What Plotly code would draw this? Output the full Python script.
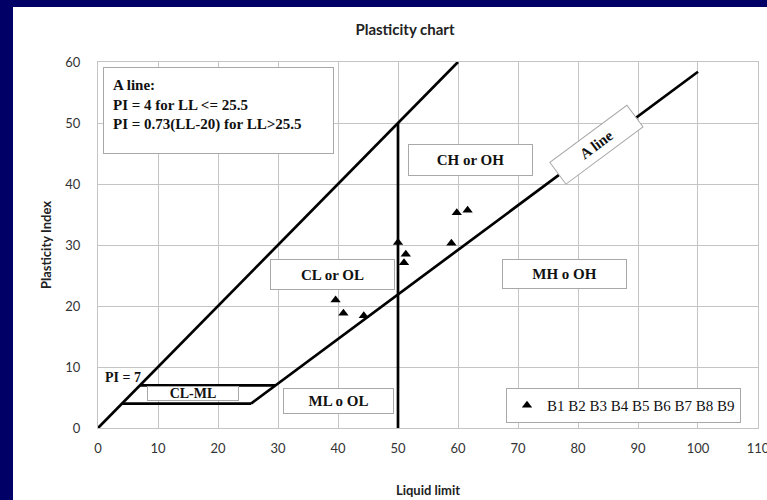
import plotly.graph_objects as go

# ---- data ----
ll_points = [39.6, 40.9, 44.3, 50.0, 51.3, 51.0, 58.9, 59.8, 61.6]
pi_points = [21.0, 18.8, 18.4, 30.4, 28.5, 27.1, 30.3, 35.3, 35.7]
series_name = "B1 B2 B3 B4 B5 B6 B7 B8 B9"

u_line_ll = [0, 60]
u_line_pi = [0, 60]
a_line_ll = [25.5, 100]
a_line_pi = [4, 58.4]
pi4_ll = [4, 25.5]
pi4_pi = [4, 4]
pi7_ll = [7, 29.6]
pi7_pi = [7, 7]
ll50_ll = [50, 50]
ll50_pi = [0, 50]

x_ticks = [0, 10, 20, 30, 40, 50, 60, 70, 80, 90, 100, 110]
y_ticks = [0, 10, 20, 30, 40, 50, 60]

W, H = 767, 500
L, R, T, B = 98, 9, 62, 72
PW, PH = W - L - R, H - T - B

def px_x(p):
    return (p - L) / PW

def px_y(p):
    return (H - B - p) / PH

fig = go.Figure()
line_style = dict(color="black", width=2.7)
for xs, ys in [(u_line_ll, u_line_pi), (a_line_ll, a_line_pi), (pi4_ll, pi4_pi),
               (pi7_ll, pi7_pi), (ll50_ll, ll50_pi)]:
    fig.add_trace(go.Scatter(x=xs, y=ys, mode="lines", line=line_style,
                             showlegend=False, hoverinfo="skip"))

fig.add_trace(go.Scatter(x=ll_points, y=pi_points, mode="markers", name=series_name,
                         marker=dict(symbol="triangle-up", size=9, color="black")))

serif = "Liberation Serif"
border = "#a8a8a8"

def box(x, y, text, w, h, size=15, angle=0):
    fig.add_annotation(x=x, y=y, text="<b>%s</b>" % text, showarrow=False,
                       font=dict(family=serif, size=size, color="#111"),
                       bgcolor="white", bordercolor=border, borderwidth=1,
                       width=w, height=h, borderpad=0, textangle=angle)

box(15.8, 5.6, "CL-ML", 90, 13, size=14)
box(40.0, 4.4, "ML o OL", 109, 24)
box(39.0, 25.2, "CL or OL", 123, 29)
box(77.8, 25.2, "MH o OH", 123, 28)
box(62.0, 43.9, "CH or OH", 123, 30)
box(83.0, 46.4, "A line", 95, 26, angle=-36.6)

fig.add_annotation(x=4.2, y=8.3, text="<b>PI = 7</b>", showarrow=False,
                   font=dict(family=serif, size=14, color="#111"))

fig.add_annotation(xref="paper", yref="paper", x=px_x(103), y=px_y(67),
                   xanchor="left", yanchor="top", align="left", valign="top",
                   text="<b>A line:<br>PI = 4 for LL &lt;= 25.5<br>PI = 0.73(LL-20) for LL&gt;25.5</b>",
                   showarrow=False, font=dict(family=serif, size=15, color="#111"),
                   bgcolor="white", bordercolor=border, borderwidth=1,
                   width=211, height=67, borderpad=9)

# navy frame bands on left and top
navy = "#000066"
fig.add_shape(type="rect", xref="paper", yref="paper", x0=px_x(0), x1=px_x(13),
              y0=px_y(H), y1=px_y(0), fillcolor=navy, line_width=0, layer="above")
fig.add_shape(type="rect", xref="paper", yref="paper", x0=px_x(0), x1=px_x(W),
              y0=px_y(7), y1=px_y(0), fillcolor=navy, line_width=0, layer="above")

tick_font = dict(family="Lato", size=13, color="#333")
grid = "#c4c4c4"
fig.update_layout(
    width=W, height=H,
    margin=dict(l=L, r=R, t=T, b=B, autoexpand=False),
    paper_bgcolor="white", plot_bgcolor="white",
    title=dict(text="<b>Plasticity chart</b>", x=405 / W, xanchor="center",
               y=1 - 30 / H, yanchor="middle",
               font=dict(family="Lato", size=15, color="#222")),
    xaxis=dict(range=[0, 110.001], tickvals=x_ticks, showgrid=True, gridcolor=grid,
               zeroline=False, showline=True, linecolor=grid, mirror=True,
               automargin=False,
               tickfont=tick_font, ticklabelstandoff=8, ticklabeloverflow="allow",
               title=dict(text="<b>Liquid limit</b>", standoff=31,
                          font=dict(family="Lato", size=13, color="#222"))),
    yaxis=dict(range=[0, 60], tickvals=y_ticks, showgrid=True, gridcolor=grid,
               zeroline=False, showline=True, linecolor=grid, mirror=True,
               automargin=False,
               tickfont=tick_font, ticklabelstandoff=14,
               title=dict(text="<b>Plasticity Index</b>", standoff=10,
                          font=dict(family="Lato", size=13, color="#222"))),
    legend=dict(x=px_x(506), y=px_y(388), xanchor="left", yanchor="top",
                bgcolor="white", bordercolor=border, borderwidth=1,
                font=dict(family=serif, size=15, color="#111")),
    showlegend=True,
)

fig.write_html("out.html")
